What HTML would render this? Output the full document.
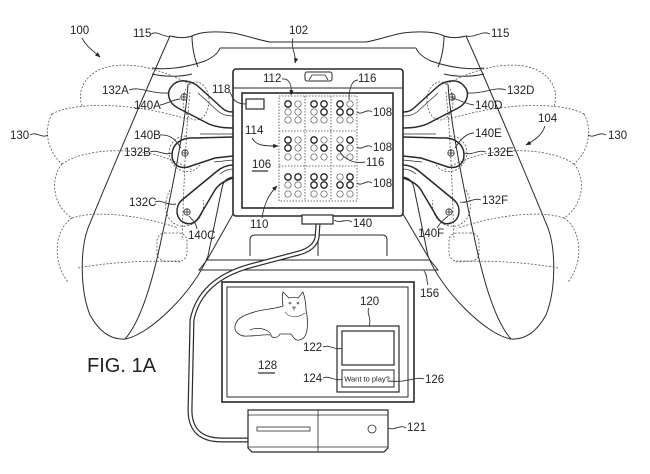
<!DOCTYPE html>
<html><head><meta charset="utf-8"><style>
html,body{margin:0;padding:0;background:#fff;}
svg{display:block;}
text{font-family:"Liberation Sans",Arial,sans-serif;font-size:11.5px;fill:#222;}
</style></head><body>
<svg width="650" height="474" viewBox="0 0 650 474" xmlns="http://www.w3.org/2000/svg">
<defs>
<marker id="ah" viewBox="0 0 10 10" refX="9" refY="5" markerWidth="6" markerHeight="6" orient="auto"><path d="M0,1 L10,5 L0,9 Z" fill="#222"/></marker>
<g id="half" fill="none" stroke="#2a2a2a" stroke-width="1">
  <!-- outer edge -->
  <path d="M170,36 C160,58 120,150 88,228 C80,250 80,290 90,315 C100,333 112,340 125,339"/>
  <!-- inner grip line -->
  <path d="M188,84 C186,120 172,190 162,236 C154,275 142,320 125,339"/>
  <!-- body line -->
  <path d="M233,177 Q224,178 222,188 L208,256 C195,290 150,335 125,339"/>
  <!-- bumper -->
  <path d="M170,36 C178,38 186,38 192,36 C200,32 215,31 233,33 C245,35 258,40 270,42 L318,42"/>
  <path d="M220,48 L318,48"/>
  <path d="M192,36 C192,45 194,58 198,67"/>
  <path d="M152,68 C165,70 185,68 205,61 C214,57 218,53 220,48"/>
  <path d="M152,74 C165,77 180,77 192,74"/>
  <!-- dashed hand -->
  <g stroke-dasharray="2 1.6" stroke="#555" stroke-width="0.8">
    <path d="M82,106 C76,88 88,70 112,66 C140,62 165,72 190,84"/>
    <path d="M52,114 C70,104 110,103 150,110 C165,113 178,116 190,120"/>
    <path d="M52,114 C44,128 46,150 62,164"/>
    <path d="M62,164 C85,148 130,148 160,156 C172,160 182,164 192,170"/>
    <path d="M62,164 C50,178 52,205 72,218"/>
    <path d="M72,218 C95,210 140,215 178,228"/>
    <path d="M72,218 C54,230 52,262 68,282"/>
    <path d="M78,268 C110,262 150,260 182,262"/>
    <path d="M190,92 C186,130 184,180 182,240"/>
    <ellipse cx="196" cy="101" rx="13" ry="19"/>
    <path d="M186,136 C168,136 162,160 180,170 C190,174 196,170 200,165"/>
    <path d="M170,190 C162,205 165,222 180,226 C195,228 206,215 203,200"/>
    <rect x="157" y="233" width="30" height="28" rx="8"/>
  </g>
  <!-- paddles -->
  <g stroke-width="1.5">
    <path d="M233,112 Q226,112 222,108 L200,88 C192,80 178,78 172,86 C166,92 168,103 178,108 L205,122 Q215,128 233,128"/>
    <path d="M233,137 L195,138 C180,137 172,145 172,155 C172,165 180,169 188,167 Q200,163 215,158 L233,156"/>
    <path d="M233,165 Q224,165 216,172 L182,200 C174,207 176,220 185,223 C193,226 198,220 202,212 L215,190 Q220,182 233,178"/>
  </g>
  <g stroke-width="0.7">
    <path d="M233,116 Q224,116 219,112 L198,93"/>
    <path d="M233,134 L200,134"/>
    <path d="M233,160 L214,162"/>
    <path d="M233,169 Q226,169 220,174"/>
  </g>
  <g stroke-width="0.8">
    <circle cx="184" cy="97" r="3.2"/><path d="M180.8,97h6.4M184,93.8v6.4"/>
    <circle cx="185" cy="153" r="3.2"/><path d="M181.8,153h6.4M185,149.8v6.4"/>
    <circle cx="187" cy="212" r="3.2"/><path d="M183.8,212h6.4M187,208.8v6.4"/>
  </g>
</g>
</defs>

<rect width="650" height="474" fill="#fff"/>

<use href="#half"/>
<use href="#half" transform="matrix(-1 0 0 1 636 0)"/>

<!-- base -->
<g fill="none" stroke="#2a2a2a" stroke-width="1">
  <polygon points="233,214 403,214 430,260 207,260" fill="#fff"/>
  <path d="M207,260 L199,270 L438,270 L430,260"/>
  <path d="M250,256 L250,240 Q250,235 255,235 L382,235 Q387,235 387,240 L387,256"/>
  <path d="M318,235 V256"/>
</g>

<!-- display 102 -->
<g fill="none" stroke="#2a2a2a">
  <rect x="233" y="69" width="170" height="147" rx="3" stroke-width="1.6" fill="#fff"/>
  <path d="M233,88 H403" stroke-width="1"/>
  <rect x="242" y="93" width="151" height="115" stroke-width="1.6"/>
  <rect x="305" y="72" width="27" height="9" rx="2" stroke-width="1"/>
  <path d="M309,80 L312,75 L325,75 L328,80" stroke-width="0.8"/>
  <rect x="246" y="99" width="18" height="10" stroke-width="1.2"/>
  <g stroke-dasharray="1.5 1.5" stroke="#444" stroke-width="0.8">
    <rect x="279" y="96" width="78" height="105"/>
    <path d="M305,96 V201 M331,96 V201 M279,131 H357 M279,166 H357"/>
  </g>
</g>

<!-- braille dots -->
<g fill="none">
  <g stroke="#222" stroke-width="1.3">
    <circle cx="288" cy="104" r="3.2"/>
    <circle cx="314" cy="104" r="3.2"/><circle cx="324" cy="104" r="3.2"/><circle cx="324" cy="112" r="3.2"/>
    <circle cx="340" cy="104" r="3.2"/><circle cx="340" cy="112" r="3.2"/><circle cx="350" cy="112" r="3.2"/>
    <circle cx="288" cy="140" r="3.2"/><circle cx="288" cy="148" r="3.2"/>
    <circle cx="314" cy="140" r="3.2"/><circle cx="324" cy="148" r="3.2"/>
    <circle cx="350" cy="140" r="3.2"/><circle cx="340" cy="148" r="3.2"/>
    <circle cx="288" cy="177" r="3.2"/><circle cx="298" cy="177" r="3.2"/>
    <circle cx="314" cy="177" r="3.2"/><circle cx="324" cy="177" r="3.2"/><circle cx="314" cy="185" r="3.2"/><circle cx="324" cy="185" r="3.2"/>
    <circle cx="350" cy="177" r="3.2"/><circle cx="340" cy="185" r="3.2"/><circle cx="350" cy="185" r="3.2"/>
  </g>
  <g stroke="#555" stroke-width="0.7">
    <circle cx="298" cy="104" r="3.2"/><circle cx="288" cy="112" r="3.2"/><circle cx="298" cy="112" r="3.2"/><circle cx="288" cy="120" r="3.2"/><circle cx="298" cy="120" r="3.2"/>
    <circle cx="314" cy="112" r="3.2"/><circle cx="314" cy="120" r="3.2"/><circle cx="324" cy="120" r="3.2"/>
    <circle cx="350" cy="104" r="3.2"/><circle cx="340" cy="120" r="3.2"/><circle cx="350" cy="120" r="3.2"/>
    <circle cx="298" cy="140" r="3.2"/><circle cx="298" cy="148" r="3.2"/><circle cx="288" cy="157" r="3.2"/><circle cx="298" cy="157" r="3.2"/>
    <circle cx="324" cy="140" r="3.2"/><circle cx="314" cy="148" r="3.2"/><circle cx="314" cy="157" r="3.2"/><circle cx="324" cy="157" r="3.2"/>
    <circle cx="340" cy="140" r="3.2"/><circle cx="350" cy="148" r="3.2"/><circle cx="340" cy="157" r="3.2"/><circle cx="350" cy="157" r="3.2"/>
    <circle cx="288" cy="185" r="3.2"/><circle cx="298" cy="185" r="3.2"/><circle cx="288" cy="194" r="3.2"/><circle cx="298" cy="194" r="3.2"/>
    <circle cx="314" cy="194" r="3.2"/><circle cx="324" cy="194" r="3.2"/>
    <circle cx="340" cy="177" r="3.2"/><circle cx="340" cy="194" r="3.2"/><circle cx="350" cy="194" r="3.2"/>
  </g>
</g>

<!-- cable -->
<path d="M318,224 L317,238 Q314,250 295,254 L250,266 Q200,280 192,320 L190,410 Q190,440 222,440 L248,440" fill="none" stroke="#2a2a2a" stroke-width="5"/>
<path d="M318,224 L317,238 Q314,250 295,254 L250,266 Q200,280 192,320 L190,410 Q190,440 222,440 L248,440" fill="none" stroke="#fff" stroke-width="2.6"/>
<rect x="302" y="215" width="31" height="9" fill="#fff" stroke="#2a2a2a" stroke-width="1.2"/>

<!-- monitor -->
<g fill="none" stroke="#2a2a2a">
  <rect x="222" y="282" width="192" height="120" stroke-width="1.6" fill="#fff"/>
  <rect x="227" y="287" width="181" height="110" stroke-width="1"/>
  <rect x="337" y="326" width="62" height="66" stroke-width="1.2"/>
  <rect x="342" y="331" width="52" height="34" stroke-width="1.2"/>
  <rect x="342" y="370" width="52" height="17" stroke-width="1"/>
  <!-- cat -->
  <path d="M283,306 C282,300 282,296 283,292 L289,298 C292,297 296,297 298,298 L303,292 C305,298 306,304 306,310 C308,318 308,328 306,334 C304,340 297,342 294,338 C292,336 292,334 290,334 L280,334 C278,338 272,339 271,335 C266,334 258,336 248,336 C240,337 234,332 235,326 C236,318 246,314 258,311 C268,309 278,308 283,306 Z" stroke-width="0.8"/>
  <path d="M250,330 C257,327 266,328 271,334" stroke-width="0.7"/>
  <path d="M285,312 C289,318 298,318 305,313" stroke-width="0.6"/>
  <circle cx="290" cy="303" r="1" stroke-width="0.6"/><circle cx="298" cy="303" r="1" stroke-width="0.6"/>
  <path d="M292.5,307 l1.5,1.5 l1.5,-1.5 z M294,308.5 v2" stroke-width="0.6"/>
</g>
<text x="367" y="381.5" text-anchor="middle" style="font-size:7.5px">Want to play?</text>

<!-- console -->
<g fill="none" stroke="#2a2a2a" stroke-width="1.2">
  <path d="M248,410 L388,410 L388,448 L384,452 L252,452 L248,448 Z" fill="#fff"/>
  <path d="M248,415 H388 M248,447 H388 M318,410 V452" stroke-width="0.8"/>
  <rect x="257" y="427" width="53" height="4" stroke-width="0.8"/>
  <circle cx="372" cy="429" r="4" stroke-width="0.8"/>
</g>

<!-- leaders and arrows -->
<g fill="none" stroke="#333" stroke-width="0.9">
  <path d="M82,38 C86,46 92,50 100,57" marker-end="url(#ah)"/>
  <path d="M151,34 C158,30 163,38 171,36"/>
  <path d="M490,34 C482,30 476,38 466,36"/>
  <path d="M293,38 C290,48 297,55 295,63" marker-end="url(#ah)"/>
  <path d="M129,90 C140,86 150,94 168,93"/>
  <path d="M160,105 C166,104 172,100 180,99"/>
  <path d="M160,135 C170,134 176,140 181,148"/>
  <path d="M150,152 C158,149 163,156 172,153"/>
  <path d="M155,202 C162,199 167,206 176,204"/>
  <path d="M197,229 C196,222 192,220 189,216"/>
  <path d="M30,135 C37,131 42,139 48,135"/>
  <path d="M230,92 C233,100 236,104 246,104"/>
  <path d="M282,79 C290,78 292,86 291,95" marker-end="url(#ah)"/>
  <path d="M358,80 C352,80 349,88 349,100"/>
  <path d="M372,112 C366,108 362,116 357,112"/>
  <path d="M372,147 C366,143 362,151 357,147"/>
  <path d="M372,183 C366,179 362,187 357,183"/>
  <path d="M365,162 C355,164 345,160 340,152"/>
  <path d="M252,138 C256,146 265,146 278,146" marker-end="url(#ah)"/>
  <path d="M262,218 C264,205 268,195 277,186" marker-end="url(#ah)"/>
  <path d="M352,222 C346,218 340,224 334,220"/>
  <path d="M506,90 C495,86 485,94 468,93"/>
  <path d="M474,105 C466,104 460,100 452,98"/>
  <path d="M474,133 C466,133 460,140 455,148"/>
  <path d="M486,152 C478,149 472,156 464,153"/>
  <path d="M481,200 C474,197 468,204 460,202"/>
  <path d="M437,228 C440,222 445,219 448,216"/>
  <path d="M545,126 C542,135 535,140 526,145" marker-end="url(#ah)"/>
  <path d="M606,135 C599,131 594,139 588,135"/>
  <path d="M428,285 C426,280 428,276 424,271"/>
  <path d="M369,308 C366,313 372,318 369,326"/>
  <path d="M323,347 C330,344 335,351 342,348"/>
  <path d="M323,378 C330,375 335,382 342,379"/>
  <path d="M424,379 C415,376 410,383 388,381"/>
  <path d="M406,428 C400,424 395,431 388,428"/>
  <path d="M252,171 H268 M258,373 H275" stroke-width="1.2"/>
</g>

<!-- labels -->
<text x="70" y="34">100</text>
<text x="133" y="37">115</text>
<text x="491" y="37">115</text>
<text x="289" y="34">102</text>
<text x="102" y="94">132A</text>
<text x="134" y="109">140A</text>
<text x="134" y="139">140B</text>
<text x="124" y="156">132B</text>
<text x="129" y="206">132C</text>
<text x="188" y="239">140C</text>
<text x="10" y="139">130</text>
<text x="212" y="93">118</text>
<text x="263" y="82">112</text>
<text x="358" y="82">116</text>
<text x="373" y="116">108</text>
<text x="373" y="151">108</text>
<text x="373" y="187">108</text>
<text x="366" y="166">116</text>
<text x="245" y="134">114</text>
<text x="252" y="168">106</text>
<text x="250" y="228">110</text>
<text x="353" y="227">140</text>
<text x="507" y="94">132D</text>
<text x="475" y="109">140D</text>
<text x="475" y="137">140E</text>
<text x="487" y="156">132E</text>
<text x="482" y="204">132F</text>
<text x="418" y="237">140F</text>
<text x="538" y="122">104</text>
<text x="608" y="139">130</text>
<text x="420" y="297">156</text>
<text x="360" y="305">120</text>
<text x="303" y="351">122</text>
<text x="303" y="382">124</text>
<text x="425" y="383">126</text>
<text x="258" y="369">128</text>
<text x="407" y="431">121</text>
<text x="87" y="372" style="font-size:20px">FIG. 1A</text>
</svg>
</body></html>
